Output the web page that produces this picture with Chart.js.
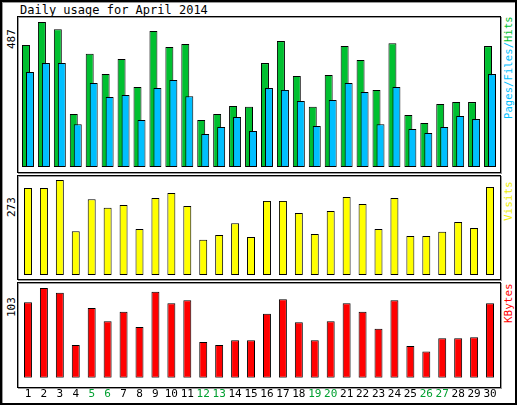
<!DOCTYPE html>
<html><head><meta charset="utf-8">
<script src="https://cdn.jsdelivr.net/npm/chart.js@4"></script>
<style>
body{margin:0;background:#fff;font-family:"DejaVu Sans Mono",monospace;}
#outer{position:absolute;left:0;top:0;width:513px;height:401px;border:2px solid #000;box-shadow:inset 1px 1px 0 #999;}
.frame{position:absolute;border:1px solid #000;box-shadow:1px 1px 0 #999, inset 1px 1px 0 #999;}
.cw{position:absolute;}
.t{position:absolute;font-size:11px;white-space:nowrap;}
.rot{transform-origin:0 0;transform:rotate(-90deg);}
</style></head><body>
<div id="outer"></div>
<div class="t" style="left:20px;top:3px;font-size:12px">Daily usage for April 2014</div>
<div class="frame" style="left:17px;top:16px;width:482px;height:155px"></div>
<div class="frame" style="left:17px;top:175px;width:482px;height:103px"></div>
<div class="frame" style="left:17px;top:282px;width:482px;height:104px"></div>
<div class="t rot" style="left:5px;top:49px">487</div>
<div class="t rot" style="left:5px;top:217px">273</div>
<div class="t rot" style="left:5px;top:317px">103</div>
<div class="t rot" style="left:502px;top:119px;font-size:10.5px;letter-spacing:0.1px"><span style="color:#00bfff">Pages/Files/</span><span style="color:#00c030">Hits</span></div>
<div class="t rot" style="left:502px;top:221px;color:#eeee00">Visits</div>
<div class="t rot" style="left:502px;top:323px;color:#ff0000">KBytes</div>
<div class="cw" style="left:16px;top:17px;width:482px;height:155px"><canvas id="c1"></canvas></div>
<div class="cw" style="left:20px;top:17px;width:482px;height:155px"><canvas id="c1b"></canvas></div>
<div class="cw" style="left:18px;top:176px;width:482px;height:103px"><canvas id="c2"></canvas></div>
<div class="cw" style="left:18px;top:283px;width:482px;height:120px"><canvas id="c3"></canvas></div>
<script>
const days = Array.from({length:30},(_,i)=>String(i+1));
const weekend = ["5","6","12","13","19","20","26","27"];
const hits = [410,487,463,178,380,312,363,269,457,403,413,158,178,205,202,349,423,306,202,309,406,359,259,416,175,148,212,218,218,406];
const files = [319,349,349,144,282,235,242,158,265,292,238,111,134,168,121,265,259,222,138,225,282,252,144,269,128,114,134,171,161,312];
const visits = [250,250,273,126,218,193,201,132,221,236,198,101,115,149,109,213,213,178,118,184,224,204,132,221,112,112,124,152,135,253];
const kbytes = [86.7,103,97.6,37.7,80.2,64.9,75.8,58.4,98.7,85.6,88.9,41,37.7,43.2,43.2,73.6,90,63.8,43.2,64.9,85.6,75.8,56.2,88.9,36.6,30.1,45.3,45.3,46.4,85.6];

function mk(id, datasets, max, pad, showX){
  new Chart(document.getElementById(id),{
    type:'bar',
    data:{labels:days,datasets},
    options:{
      responsive:true,maintainAspectRatio:false,animation:false,
      layout:{padding:pad},
      plugins:{legend:{display:false},tooltip:{enabled:false}},
      datasets:{bar:{categoryPercentage:0.5,barPercentage:1,borderColor:'#000',borderWidth:1,borderSkipped:false}},
      scales:{
        x:{display:showX,grid:{display:false},border:{display:false},
           ticks:{padding:2,maxRotation:0,autoSkip:false,font:{family:'DejaVu Sans Mono',size:11},
             color:(c)=>weekend.includes(days[c.index])?'#00a030':'#000'}},
        y:{display:false,min:0,max:max}
      }
    }
  });
}
const hmax = Math.max(...hits);
mk('c1',[{data:hits,backgroundColor:'#00c030'}],hmax,{left:2,right:2,top:5,bottom:5},false);
mk('c1b',[{data:files,backgroundColor:'#00bfff'}],hmax,{left:2,right:2,top:5,bottom:5},false);
mk('c2',[{data:visits,backgroundColor:'#ffff00'}],Math.max(...visits),{left:2,right:2,top:4,bottom:4},false);
mk('c3',[{data:kbytes,backgroundColor:'#ff0000'}],Math.max(...kbytes),{left:2,right:2,top:5,bottom:0},true);
</script>
</body></html>
